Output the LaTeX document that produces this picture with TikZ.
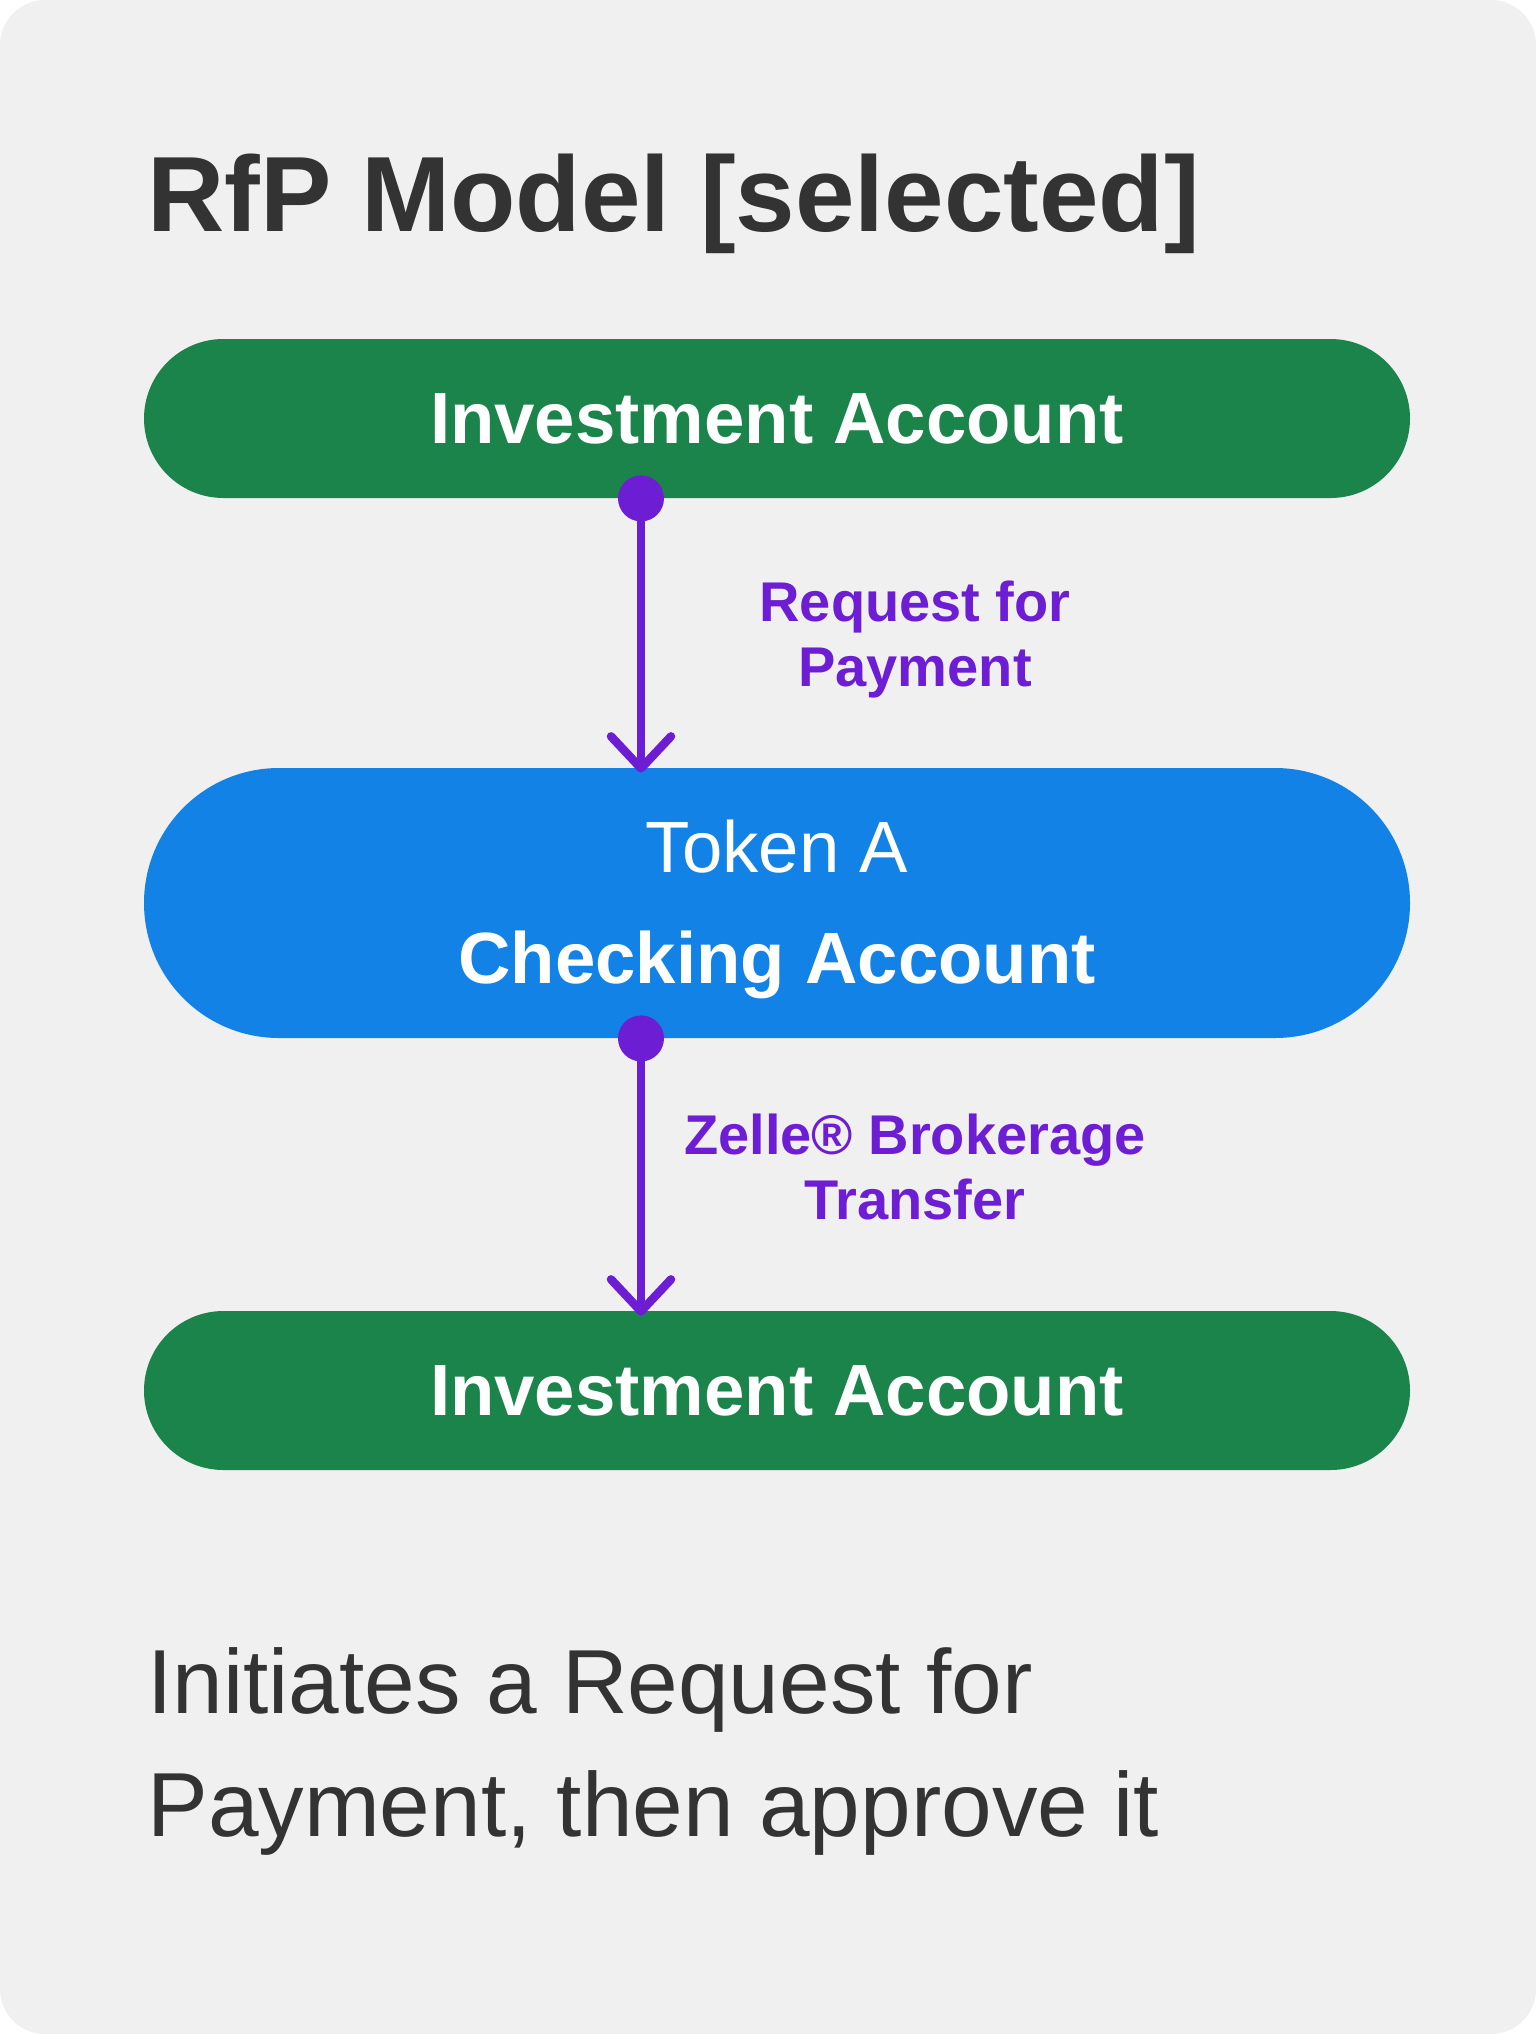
\documentclass[tikz,border=0pt]{standalone}
\usepackage{fontspec}
\setmainfont{Liberation Sans}
\usetikzlibrary{positioning,arrows.meta}
\definecolor{canvas}{RGB}{240,240,240}
\definecolor{ink}{RGB}{51,51,51}
\definecolor{acctgreen}{RGB}{26,132,74}
\definecolor{tokenblue}{RGB}{18,130,230}
\definecolor{flow}{RGB}{109,30,212}

\begin{document}
\begin{tikzpicture}[x=0.5pt,y=-0.5pt,
  acct/.style={fill=acctgreen,rounded corners=39.75pt,inner sep=0pt,
     minimum width=633pt,minimum height=79.5pt,text=white,
     font=\fontsize{36.3}{44}\selectfont\bfseries},
  tok/.style={fill=tokenblue,rounded corners=67.5pt,inner sep=0pt,
     minimum width=633pt,minimum height=135pt,text=white,align=center,
     font=\fontsize{36.3}{55.5}\selectfont},
  flowline/.style={draw=flow,line width=4.25pt,shorten >=-2.5pt,
     -{Straight Barb[length=16pt,width=30pt,round]}},
  flowlbl/.style={text=flow,align=center,
     font=\fontsize{28}{32.5}\selectfont\bfseries}]
\fill[white] (0,0) rectangle (1536,2034);
\fill[canvas,rounded corners=22.5pt] (0,0) rectangle (1536,2034);
\useasboundingbox (0,0) rectangle (1536,2034);

\node[anchor=base west,inner sep=0pt,text=ink,
  font=\fontsize{53.5}{60}\selectfont\bfseries] (title) at (147,231) {RfP Model [selected]};

\node[acct] (invTop) at (777,418.5) {Investment Account};
\node[tok] (checking) at (777,903) {\rule{0pt}{32.5pt}Token A\\\textbf{Checking Account}};
\node[acct] (invBot) at (777,1390.5) {Investment Account};

% arrows sit left of centre
\coordinate (drop) at (641,0);
\draw[flowline] (drop |- invTop.south) -- node[flowlbl,xshift=137pt,yshift=-3.5pt] (rfp) {Request for\\Payment} (drop |- checking.north);
\fill[flow] (drop |- invTop.south) circle[radius=11.5pt];
\draw[flowline] (drop |- checking.south) -- node[flowlbl,xshift=137pt,yshift=4pt] (zelle) {Zelle® Brokerage\\Transfer} (drop |- invBot.north);
\fill[flow] (drop |- checking.south) circle[radius=11.5pt];

\node[anchor=base west,inner sep=0pt,align=left,text=ink,
  font=\fontsize{45.5}{61.5}\selectfont] (note) at (147,1836) {Initiates a Request for\\Payment, then approve it};
\end{tikzpicture}
\end{document}
